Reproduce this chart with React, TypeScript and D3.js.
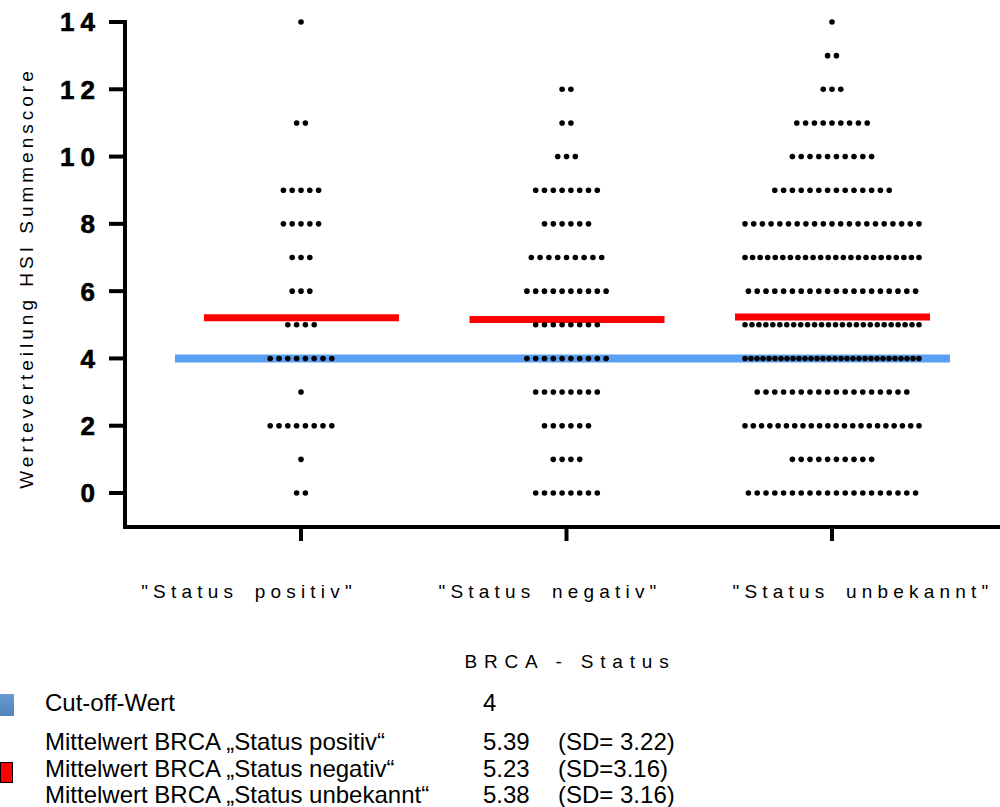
import React, { useEffect, useRef } from "react";
import * as d3 from "d3";

// Categories on the x axis
const groups = ['"Status positiv"', '"Status negativ"', '"Status unbekannt"'];

const scoreLevels = [0, 1, 2, 3, 4, 5, 6, 7, 8, 9, 10, 11, 12, 13, 14];
const positivCounts = [2, 1, 8, 1, 8, 4, 3, 3, 5, 5, 0, 2, 0, 0, 1];
const negativCounts = [8, 4, 6, 8, 10, 8, 10, 9, 6, 8, 3, 2, 2, 0, 0];
const unbekanntCounts = [20, 10, 22, 18, 30, 26, 20, 24, 21, 14, 10, 9, 3, 2, 1];

// mean lines as they sit in the plot, and the cut-off line
const plottedMeans = [5.21, 5.16, 5.23];
const cutoff = 4;
const yTicks = [0, 2, 4, 6, 8, 10, 12, 14];

const legendRows = [
  { label: "Mittelwert BRCA „Status positiv“", value: "5.39", sd: "(SD= 3.22)" },
  { label: "Mittelwert BRCA „Status negativ“", value: "5.23", sd: "(SD=3.16)" },
  { label: "Mittelwert BRCA „Status unbekannt“", value: "5.38", sd: "(SD= 3.16)" },
];

const countsByGroup = [positivCounts, negativCounts, unbekanntCounts];

const DotPlot = () => {
  const ref = useRef<SVGSVGElement | null>(null);

  useEffect(() => {
    document.body.style.margin = "0";
    const svg = d3.select(ref.current);
    svg.selectAll("*").remove();

    const font = "'Liberation Sans', Arial, sans-serif";
    const axisX = 125;
    const axisBottom = 527;

    const x = d3.scalePoint<string>().domain(groups).range([301, 832]);
    const y = d3.scaleLinear().domain([0, 14]).range([493, 22]);

    // reference lines behind the dots
    svg
      .append("line")
      .attr("x1", x(groups[0])! - 126)
      .attr("x2", x(groups[2])! + 118)
      .attr("y1", y(cutoff))
      .attr("y2", y(cutoff))
      .attr("stroke", "#5aa0f2")
      .attr("stroke-width", 8);

    svg
      .selectAll(".mean")
      .data(plottedMeans)
      .enter()
      .append("line")
      .attr("x1", (d, i) => x(groups[i])! - 97)
      .attr("x2", (d, i) => x(groups[i])! + 98)
      .attr("y1", (d) => y(d))
      .attr("y2", (d) => y(d))
      .attr("stroke", "#ff0000")
      .attr("stroke-width", 7);

    // expand counts into dots, centred rows, compressed when too wide
    const dots: { x: number; y: number }[] = [];
    countsByGroup.forEach((counts, gi) => {
      const cx = x(groups[gi])!;
      counts.forEach((n, li) => {
        if (n === 0) return;
        const step = n > 1 ? Math.min(8.8, 174 / (n - 1)) : 0;
        for (let k = 0; k < n; k++) {
          dots.push({ x: cx + (k - (n - 1) / 2) * step, y: y(scoreLevels[li]) });
        }
      });
    });

    svg
      .selectAll(".dot")
      .data(dots)
      .enter()
      .append("circle")
      .attr("cx", (d) => d.x)
      .attr("cy", (d) => d.y)
      .attr("r", 2.8)
      .attr("fill", "#000");

    // y axis
    const yAxis = svg.append("g");
    yAxis
      .append("line")
      .attr("x1", axisX)
      .attr("x2", axisX)
      .attr("y1", y(14) - 2)
      .attr("y2", axisBottom + 2)
      .attr("stroke", "#000")
      .attr("stroke-width", 4);
    yAxis
      .selectAll(".ytick")
      .data(yTicks)
      .enter()
      .append("line")
      .attr("x1", axisX - 16)
      .attr("x2", axisX)
      .attr("y1", (d) => y(d))
      .attr("y2", (d) => y(d))
      .attr("stroke", "#000")
      .attr("stroke-width", 4);
    yAxis
      .selectAll(".ylab")
      .data(yTicks)
      .enter()
      .append("text")
      .attr("x", 101)
      .attr("y", (d) => y(d))
      .attr("dy", "0.36em")
      .attr("text-anchor", "end")
      .style("font-family", font)
      .style("font-size", "26px")
      .style("font-weight", "700")
      .style("stroke", "#000")
      .style("stroke-width", "0.6px")
      .style("letter-spacing", "6px")
      .text((d) => d);

    // x axis
    svg
      .append("line")
      .attr("x1", axisX - 2)
      .attr("x2", 1000)
      .attr("y1", axisBottom)
      .attr("y2", axisBottom)
      .attr("stroke", "#000")
      .attr("stroke-width", 4);
    svg
      .selectAll(".xtick")
      .data(groups)
      .enter()
      .append("line")
      .attr("x1", (d) => x(d)!)
      .attr("x2", (d) => x(d)!)
      .attr("y1", axisBottom)
      .attr("y2", axisBottom + 14)
      .attr("stroke", "#000")
      .attr("stroke-width", 4);

    const labelCenters = [249, 550, 863];
    svg
      .selectAll(".xlab")
      .data(groups)
      .enter()
      .append("text")
      .attr("x", (d, i) => labelCenters[i])
      .attr("y", 598)
      .attr("text-anchor", "middle")
      .style("font-family", font)
      .style("font-size", "19px")
      .style("letter-spacing", "5.2px")
      .style("word-spacing", "6px")
      .text((d) => d);

    svg
      .append("text")
      .attr("x", 570)
      .attr("y", 668)
      .attr("text-anchor", "middle")
      .style("font-family", font)
      .style("font-size", "19px")
      .style("letter-spacing", "6.8px")
      .text("BRCA - Status");

    svg
      .append("text")
      .attr("transform", "translate(33,278) rotate(-90)")
      .attr("text-anchor", "middle")
      .style("font-family", font)
      .style("font-size", "19px")
      .style("letter-spacing", "4px")
      .text("Werteverteilung HSI Summenscore");

    // legend
    const grad = svg.append("defs").append("linearGradient").attr("id", "blueSq").attr("x1", "0%").attr("x2", "0%").attr("y1", "0%").attr("y2", "100%");
    grad.append("stop").attr("offset", "0%").attr("stop-color", "#6a9bd0");
    grad.append("stop").attr("offset", "100%").attr("stop-color", "#4f84be");

    svg.append("rect").attr("x", 0).attr("y", 694).attr("width", 14).attr("height", 22).attr("fill", "url(#blueSq)");
    svg
      .append("rect")
      .attr("x", 0.5)
      .attr("y", 762.5)
      .attr("width", 12)
      .attr("height", 20)
      .attr("fill", "#ff0000")
      .attr("stroke", "#000")
      .attr("stroke-width", 1);

    const legText = (t: string, lx: number, ly: number) =>
      svg
        .append("text")
        .attr("x", lx)
        .attr("y", ly)
        .style("font-family", font)
        .style("font-size", "24px")
        .text(t);

    legText("Cut-off-Wert", 45, 711);
    legText(String(cutoff), 483, 711);
    legendRows.forEach((r, i) => {
      const ly = 750 + i * 26.5;
      legText(r.label, 45, ly);
      legText(r.value, 483, ly);
      legText(r.sd, 558, ly);
    });
  }, []);

  return <svg ref={ref} width={1000} height={807} style={{ display: "block" }}></svg>;
};

export default function App() {
  return <DotPlot />;
}
